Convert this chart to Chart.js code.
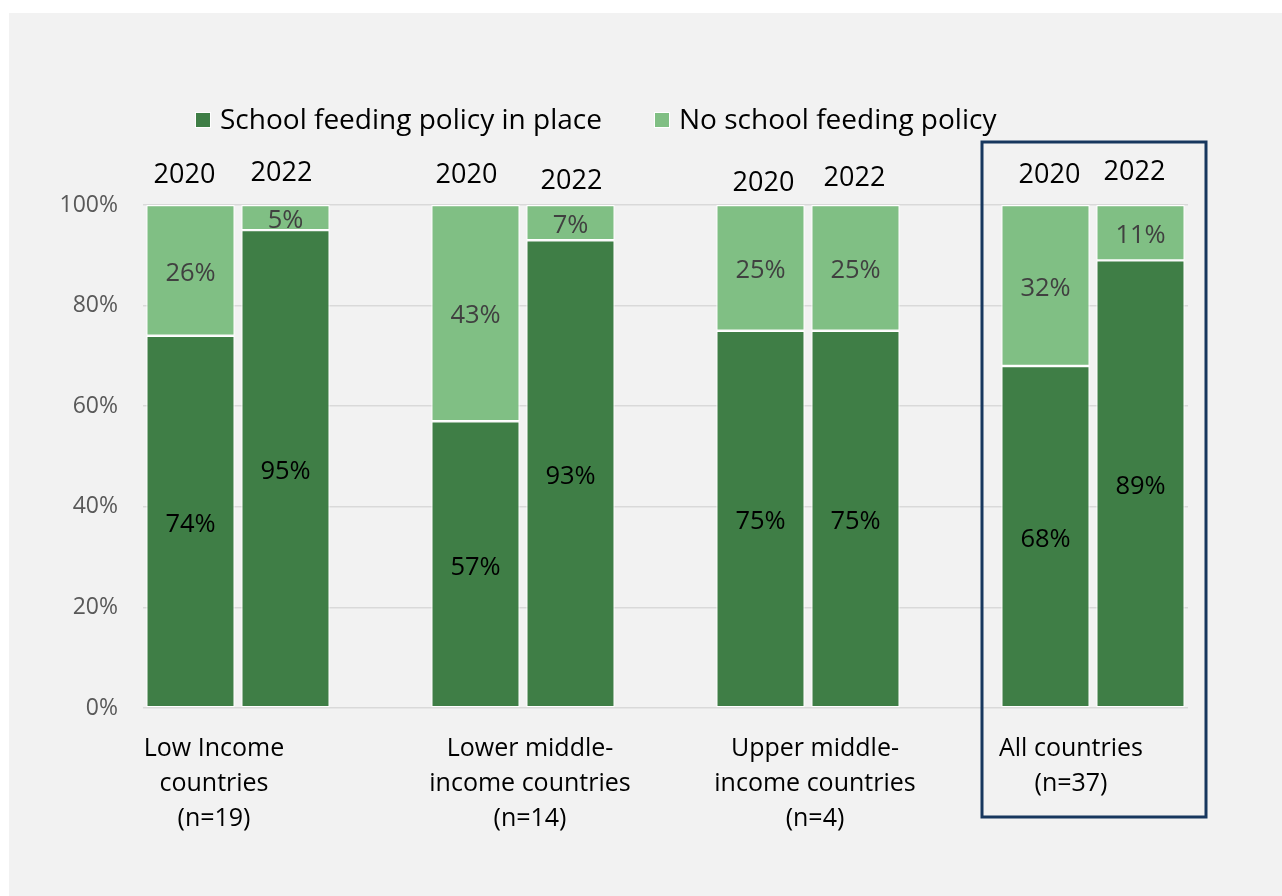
<!DOCTYPE html>
<html>
<head>
<meta charset="utf-8">
<title>School feeding policy by income group</title>
<script src="https://cdn.jsdelivr.net/npm/chart.js@4.4.1/dist/chart.umd.min.js"></script>
<style>
  html, body { margin: 0; padding: 0; background: #ffffff; }
  canvas { display: block; }
</style>
</head>
<body>
<canvas id="feedingChart" width="1282" height="896"></canvas>
<script>
// Dados: percentual de países por grupo de renda, 2020 e 2022
const groupLabels = [
  ['Low Income', 'countries', '(n=19)'],
  ['Lower middle-', 'income countries', '(n=14)'],
  ['Upper middle-', 'income countries', '(n=4)'],
  ['All countries', '(n=37)']
];
const years = ['2020', '2022'];
const policyInPlace = [74, 95, 57, 93, 75, 75, 68, 89];
const noPolicy = [26, 5, 43, 7, 25, 25, 32, 11];
const yTicks = [0, 20, 40, 60, 80, 100];

// Ajustes finos dos rótulos de ano (dx, dy em px a partir do topo da barra)
const yearNudge = [[-6, -30], [-4, -32], [-9, -30], [1, -24], [3, -22], [-1, -27], [4, -30], [-6, -33]];
// Deslocamento horizontal dos rótulos de grupo
const groupNudge = [-24, 7, 7, -22];

const FONT = "'Open Sans', 'Noto Sans', sans-serif";
const DARK = '#3f7e46';
const LIGHT = '#80bf84';

// Monta 11 posições: 2 barras por grupo e uma vaga entre grupos
const slotLabels = [];
const slotBar = [];
const darkData = [];
const lightData = [];
groupLabels.forEach(function(g, gi) {
  years.forEach(function(y, yi) {
    const i = gi * 2 + yi;
    slotLabels.push(y);
    slotBar.push(i);
    darkData.push(policyInPlace[i]);
    lightData.push(noPolicy[i]);
  });
  if (gi < groupLabels.length - 1) {
    slotLabels.push('');
    slotBar.push(null);
    darkData.push(null);
    lightData.push(null);
  }
});

// Fundo cinza do painel
const panelPlugin = {
  id: 'panel',
  beforeDraw: function(chart) {
    const ctx = chart.ctx;
    ctx.save();
    ctx.fillStyle = '#ffffff';
    ctx.fillRect(0, 0, chart.width, chart.height);
    ctx.fillStyle = '#f2f2f2';
    ctx.fillRect(9, 13, chart.width - 9, chart.height - 13);
    ctx.restore();
  }
};

// Rótulos de valor, anos, grupos, legenda e destaque
const annotatePlugin = {
  id: 'annotate',
  afterDatasetsDraw: function(chart) {
    const ctx = chart.ctx;
    const xs = chart.scales.x;
    const ys = chart.scales.y;
    ctx.save();
    ctx.textAlign = 'center';
    ctx.textBaseline = 'middle';

    // valores dentro dos segmentos
    chart.data.datasets.forEach(function(ds, di) {
      const meta = chart.getDatasetMeta(di);
      meta.data.forEach(function(bar, i) {
        const v = ds.data[i];
        if (v == null) return;
        const props = bar.getProps(['x', 'y', 'base'], true);
        ctx.font = '25.5px ' + FONT;
        ctx.fillStyle = di === 0 ? '#000000' : '#404040';
        ctx.fillText(v + '%', props.x, (props.y + props.base) / 2 + 3);
      });
    });

    // anos acima das barras
    ctx.font = '27px ' + FONT;
    ctx.fillStyle = '#000000';
    slotBar.forEach(function(b, slot) {
      if (b == null) return;
      const x = xs.getPixelForValue(slot);
      ctx.fillText(years[b % 2], x + yearNudge[b][0], ys.getPixelForValue(100) + yearNudge[b][1]);
    });

    // nomes dos grupos abaixo do eixo
    ctx.font = '25px ' + FONT;
    groupLabels.forEach(function(lines, gi) {
      const cx = (xs.getPixelForValue(gi * 3) + xs.getPixelForValue(gi * 3 + 1)) / 2 + groupNudge[gi];
      lines.forEach(function(line, li) {
        ctx.fillText(line, cx, ys.getPixelForValue(0) + 41 + li * 35);
      });
    });

    // legenda
    ctx.font = '28px ' + FONT;
    ctx.textAlign = 'left';
    const legend = [['School feeding policy in place', DARK, 196], ['No school feeding policy', LIGHT, 655]];
    legend.forEach(function(item) {
      ctx.fillStyle = '#ffffff';
      ctx.fillRect(item[2] - 1, 112, 16, 16);
      ctx.fillStyle = item[1];
      ctx.fillRect(item[2], 113, 14, 14);
      ctx.fillStyle = '#000000';
      ctx.fillText(item[0], item[2] + 24, 121);
    });

    // caixa em volta de "All countries"
    const last = groupLabels.length - 1;
    const gx = (xs.getPixelForValue(last * 3) + xs.getPixelForValue(last * 3 + 1)) / 2;
    ctx.strokeStyle = '#17375e';
    ctx.lineWidth = 3;
    ctx.strokeRect(gx - 111, ys.getPixelForValue(100) - 63, 224, ys.getPixelForValue(0) - ys.getPixelForValue(100) + 172);
    ctx.restore();
  }
};

new Chart(document.getElementById('feedingChart'), {
  type: 'bar',
  data: {
    labels: slotLabels,
    datasets: [{
      label: 'School feeding policy in place',
      data: darkData,
      backgroundColor: DARK,
      borderColor: '#ffffff',
      borderWidth: 1.2,
      borderSkipped: false
    }, {
      label: 'No school feeding policy',
      data: lightData,
      backgroundColor: LIGHT,
      borderColor: '#ffffff',
      borderWidth: 1.2,
      borderSkipped: false
    }]
  },
  options: {
    responsive: false,
    animation: false,
    barPercentage: 0.93,
    categoryPercentage: 1,
    layout: {
      padding: { left: 0, right: 94, top: 205, bottom: 188 }
    },
    plugins: {
      legend: { display: false },
      tooltip: { enabled: false }
    },
    scales: {
      x: {
        stacked: true,
        display: false
      },
      y: {
        stacked: true,
        min: 0,
        max: 100,
        afterFit: function(scale) { scale.width = 143; },
        afterBuildTicks: function(scale) {
          scale.ticks = yTicks.map(function(v) { return { value: v }; });
        },
        border: { display: false },
        grid: {
          color: '#d9d9d9',
          lineWidth: 1.5,
          drawTicks: false
        },
        ticks: {
          padding: 25,
          color: '#595959',
          font: { family: FONT, size: 23 },
          callback: function(v) { return v + '%'; }
        }
      }
    }
  },
  plugins: [panelPlugin, annotatePlugin]
});
</script>
</body>
</html>
